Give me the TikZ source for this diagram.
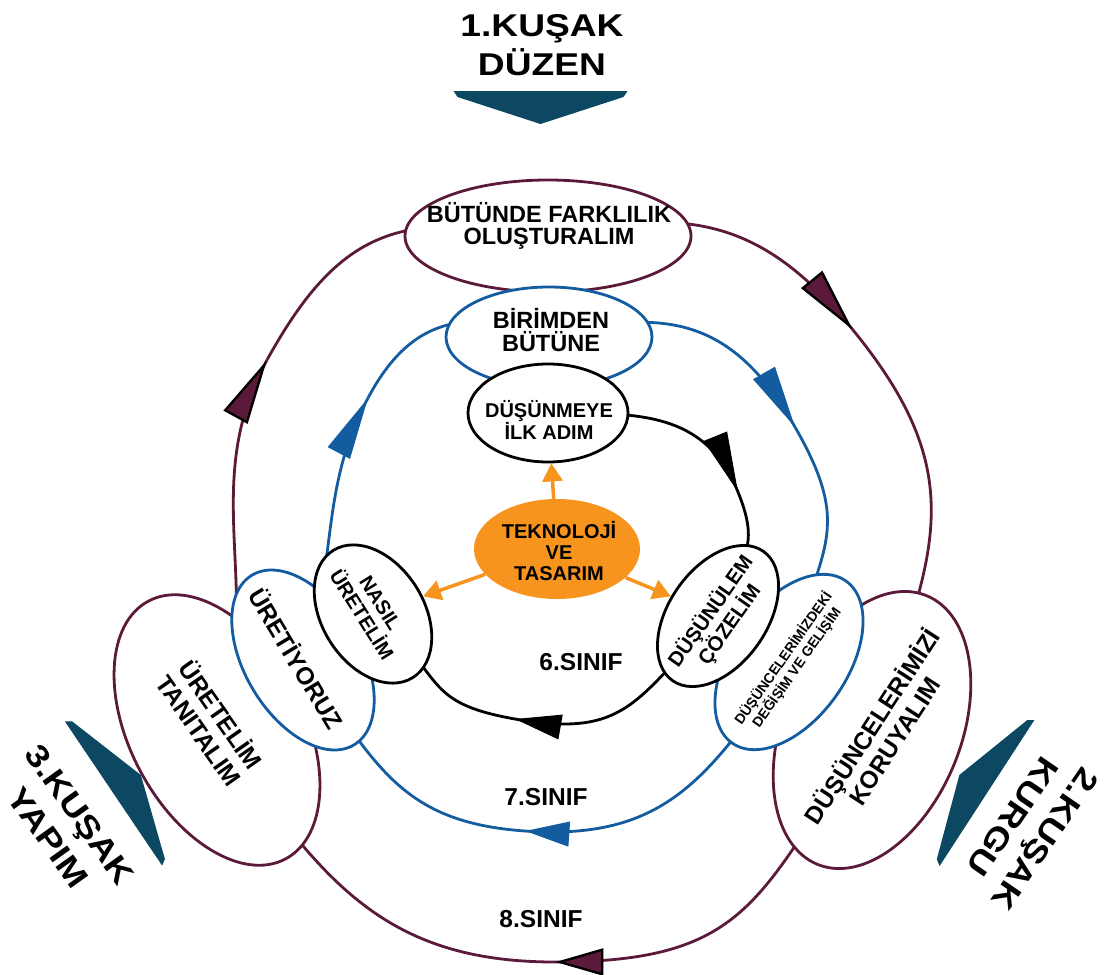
\documentclass[tikz,border=0pt]{standalone}
\usepackage{fontspec}
\setmainfont{Liberation Sans}
\newfontfamily\widefont{Liberation Sans}[FakeStretch=1.18]
\usetikzlibrary{shapes.geometric,arrows.meta,backgrounds,decorations.markings}

\definecolor{ringmaroon}{RGB}{92,26,58}
\definecolor{ringblue}{RGB}{20,92,160}
\definecolor{kusakteal}{RGB}{12,72,98}
\definecolor{tekorange}{RGB}{247,148,30}

\tikzset{
  box/.style={ellipse, fill=white, line width=2.8pt, inner sep=0pt},
  outerbox/.style={box, draw=ringmaroon},
  midbox/.style={box, draw=ringblue},
  innerbox/.style={box, draw=black},
  txt/.style 2 args={align=center, inner sep=0pt, font=\bfseries\fontsize{#1}{#2}\selectfont},
  kusak/.style={align=center, inner sep=0pt, font=\widefont\bfseries\fontsize{31.5}{39}\selectfont},
  outerring/.style={draw=ringmaroon, line width=2.8pt},
  midring/.style={draw=ringblue, line width=2.8pt},
  innerring/.style={draw=black, line width=2.8pt},
  outerhead/.tip={Triangle[length=65pt,width=27pt,line width=2.4pt,color=black,fill=ringmaroon]},
  outerheadb/.tip={Triangle[length=48pt,width=27pt,line width=2.4pt,color=black,fill=ringmaroon]},
  midhead/.tip={Triangle[length=62pt,width=25pt,line width=1pt]},
  midheadb/.tip={Triangle[length=44pt,width=25pt,line width=1pt]},
  innerhead/.tip={Triangle[length=60pt,width=25pt,line width=1pt]},
  innerheadb/.tip={Triangle[length=46pt,width=25pt,line width=1pt]},
  ringtip/.style={postaction={decorate, decoration={markings, mark=at position 0.999 with {\arrow{#1}}}}},
  orarrow/.style={draw=tekorange, line width=3.5pt, -{Triangle[length=18pt,width=20pt]}},
}

\begin{document}
\begin{tikzpicture}[x=1pt, y=1pt]
  \useasboundingbox (0,-974) rectangle (1113,0);

  % kusak arrows and titles
  \foreach \p/\r in {{540.5,-91}/0, {113.5,-793.5}/124, {987,-793}/237}
    \fill[kusakteal, shift={(\p)}, rotate=\r] (-87,0) -- (87,0) -- (83,-6) -- (0,-33) -- (-83,-6) -- cycle;
  \node[kusak] (kusak1) at (542,-45) {1.KUŞAK\\DÜZEN};
  \node[kusak, rotate=-54.4] (kusak3) at (64,-826) {3.KUŞAK\\YAPIM};
  \node[kusak, rotate=235.6] (kusak2) at (1029,-828) {2.KUŞAK\\KURGU};

  % outer ring boxes
  \node[outerbox, minimum width=286pt, minimum height=112pt] (butun) at (548,-236) {};
  \node[txt={23.5}{22.5}] (butunlbl) at (549,-226) {BÜTÜNDE FARKLILIK\\OLUŞTURALIM};
  \node[outerbox, minimum width=292pt, minimum height=174pt, rotate=-62] (tanit) at (217,-730) {};
  \node[txt={24.5}{27}, rotate=-55] (tanitlbl) at (211,-722) {ÜRETELİM\\TANITALIM};
  \node[outerbox, minimum width=290pt, minimum height=178pt, rotate=68] (koru) at (872,-730) {};
  \node[txt={24.5}{27}, rotate=57] (korulbl) at (882,-733) {DÜŞÜNCELERİMİZİ\\KORUYALIM};

  % middle ring boxes
  \node[midbox, minimum width=206pt, minimum height=100pt] (birim) at (549,-337) {};
  \node[txt={23.5}{23}] (birimlbl) at (551,-330) {BİRİMDEN\\BÜTÜNE};
  \node[midbox, minimum width=198pt, minimum height=116pt, rotate=-59] (uret) at (303,-660) {};
  \node[txt={24.5}{25}, rotate=-59] (uretlbl) at (297,-658) {ÜRETİYORUZ};
  \node[midbox, minimum width=198pt, minimum height=116pt, rotate=55] (degis) at (789,-662) {};
  \node[txt={14}{15}, rotate=55] (degislbl) at (790,-663) {DÜŞÜNCELERİMİZDEKİ\\DEĞİŞİM VE GELİŞİM};

  % inner ring boxes
  \node[innerbox, minimum width=160pt, minimum height=98pt] (dusun) at (548,-413) {};
  \node[txt={20}{19}] (dusunlbl) at (549,-420) {DÜŞÜNMEYE\\İLK ADIM};
  \node[innerbox, minimum width=150pt, minimum height=102pt, rotate=-58] (nasil) at (373,-614) {};
  \node[txt={20}{22}, rotate=-58] (nasillbl) at (371,-609) {NASIL\\ÜRETELİM};
  \node[innerbox, minimum width=158pt, minimum height=98pt, rotate=55] (cozel) at (718,-616) {};
  \node[txt={20.5}{23}, rotate=55] (cozellbl) at (720,-618) {DÜŞÜNÜLEM\\ÇÖZELİM};

  % centre
  \node[ellipse, fill=tekorange, minimum width=166pt, minimum height=100pt, inner sep=0pt] (tekno) at (557,-549) {};
  \node[txt={20}{21}] (teknolbl) at (559,-551) {TEKNOLOJİ\\VE\\TASARIM};
  \draw[orarrow] (tekno) -- (dusun);
  \draw[orarrow] (tekno) -- (nasil);
  \draw[orarrow] (tekno) -- (cozel);

  \node[txt={24.5}{25}] (s6) at (581,-662) {6.SINIF};
  \node[txt={24.5}{25}] (s7) at (546,-797) {7.SINIF};
  \node[txt={24.5}{25}] (s8) at (541,-919) {8.SINIF};

  % rings
  \coordinate (m1) at (853,-330);
  \coordinate (m2) at (555,-962);
  \coordinate (m3) at (267,-360);
  \coordinate (b1) at (795,-427);
  \coordinate (b2) at (525,-831);
  \coordinate (b3) at (368,-398);
  \coordinate (c1) at (738,-492);
  \coordinate (c2) at (515,-719);

  \begin{scope}[on background layer]
    \draw[outerring, ringtip=outerhead] (butun.center) to[out=12,in=129.2,looseness=1.15] (m1);
    \draw[outerring] (m1) to[out=-50.8,in=70,looseness=1.2] (koru.center);
    \draw[outerring, ringtip=outerheadb] (koru.center) to[out=235,in=0,looseness=1.3] (m2);
    \draw[outerring] (m2) to[out=180,in=305,looseness=1.1] (tanit.center);
    \draw[outerring, ringtip=outerhead] (tanit.center) to[out=70,in=241.1] (m3);
    \draw[outerring] (m3) to[out=61.1,in=170,looseness=1.25] (butun.center);

    \draw[midring, ringtip=midhead] (birim.center) to[out=15,in=119.8,looseness=1.2] (b1);
    \draw[midring] (b1) to[out=-60.2,in=75,looseness=1.3] (degis.center);
    \draw[midring, ringtip=midheadb] (degis.center) to[out=235,in=356,looseness=1.15] (b2);
    \draw[midring] (b2) to[out=176,in=305,looseness=1.15] (uret.center);
    \draw[midring, ringtip=midhead] (uret.center) to[out=70,in=242] (b3);
    \draw[midring] (b3) to[out=62,in=160,looseness=1.2] (birim.center);

    \draw[innerring, ringtip=innerhead] (dusun.center) to[out=0,in=112,looseness=1.1] (c1);
    \draw[innerring] (c1) to[out=-68,in=70,looseness=1.3] (cozel.center);
    \draw[innerring, ringtip=innerheadb] (cozel.center) to[out=225,in=350,looseness=1.3] (c2);
    \draw[innerring] (c2) to[out=170,in=320,looseness=1.4] (nasil.center);
  \end{scope}
\end{tikzpicture}
\end{document}
